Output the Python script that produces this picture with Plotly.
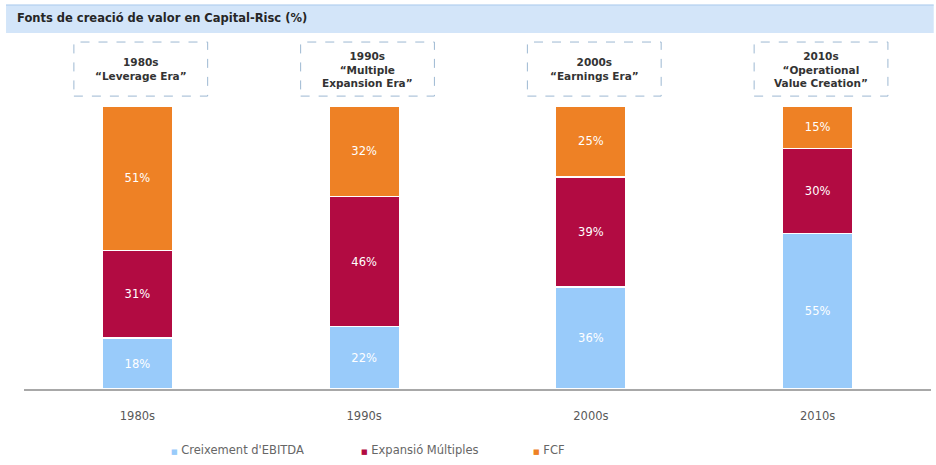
import plotly.graph_objects as go

categories = ["1980s", "1990s", "2000s", "2010s"]
ebitda = [18, 22, 36, 55]
multiples = [31, 46, 39, 30]
fcf = [51, 32, 25, 15]
series_names = ["Creixement d'EBITDA", "Expansió Múltiples", "FCF"]
era_labels = [
    "1980s<br>“Leverage Era”",
    "1990s<br>“Multiple<br>Expansion Era”",
    "2000s<br>“Earnings Era”",
    "2010s<br>“Operational<br>Value Creation”",
]
title_text = "Fonts de creació de valor en Capital-Risc (%)"

colors = ["#99CBFA", "#B20B42", "#EE8125"]
FONT = "Liberation Sans, Arial, sans-serif"
WIDE = "DejaVu Sans, Verdana, sans-serif"

fig = go.Figure()
for name, vals, col in zip(series_names, [ebitda, multiples, fcf], colors):
    fig.add_trace(go.Bar(
        x=categories, y=vals, name=name,
        marker=dict(color=col, line=dict(color="white", width=1.5)),
        texttemplate="%{y}%", textposition="inside", insidetextanchor="middle",
        textfont=dict(color="white", size=11.5, family=WIDE),
        showlegend=False, hoverinfo="skip",
    ))

# header banner
fig.add_shape(type="rect", xref="paper", yref="paper",
              x0=-0.0198, x1=1.003, y0=1.258, y1=1.357,
              fillcolor="#D3E5F9", line=dict(width=0), layer="below")
fig.add_shape(type="line", xref="paper", yref="paper",
              x0=-0.0198, x1=1.003, y0=1.357, y1=1.357,
              line=dict(color="#A9C9EC", width=1))
fig.add_annotation(text=title_text, xref="paper", yref="paper",
                   x=-0.01, y=1.31, xanchor="left", yanchor="middle",
                   showarrow=False,
                   font=dict(size=11.5, color="#262626", family=WIDE, weight="bold"))

# era boxes
for i, lab in enumerate(era_labels):
    fig.add_shape(type="rect", xref="x", yref="paper",
                  x0=i - 0.28, x1=i + 0.31, y0=1.035, y1=1.226,
                  line=dict(color="#9DB8D2", width=1, dash="dash"),
                  fillcolor="rgba(0,0,0,0)")
    fig.add_annotation(text=lab, xref="x", yref="paper",
                       x=i + 0.015, y=1.13, xanchor="center", yanchor="middle",
                       showarrow=False, align="center",
                       font=dict(size=10.5, color="#333333", family=WIDE, weight="bold"))

# legend (drawn as text entries with coloured squares)
legend_x = [0.160, 0.369, 0.559]
for name, col, lx in zip(series_names, colors, legend_x):
    fig.add_annotation(
        text=f"<span style='color:{col};font-size:7px'>■</span> {name}",
        xref="paper", yref="paper", x=lx, y=-0.2155,
        xanchor="left", yanchor="middle", showarrow=False,
        font=dict(size=11.5, color="#666666", family=WIDE))

fig.update_layout(
    barmode="stack",
    bargap=0.69,
    width=936, height=465,
    margin=dict(l=24, r=5, t=106, b=76),
    paper_bgcolor="white", plot_bgcolor="white",
    font=dict(family=WIDE, size=11, color="#595959"),
    showlegend=False,
    xaxis=dict(showline=True, linecolor="#A8A8A8", linewidth=2, showgrid=False,
               ticks="", tickfont=dict(size=11.5, color="#595959", family=WIDE),
               ticklabelstandoff=15),
    yaxis=dict(range=[0, 100], visible=False, showgrid=False),
)

fig.write_html("out.html", config={"displayModeBar": False},
               post_script="document.body.style.margin='0px';")
